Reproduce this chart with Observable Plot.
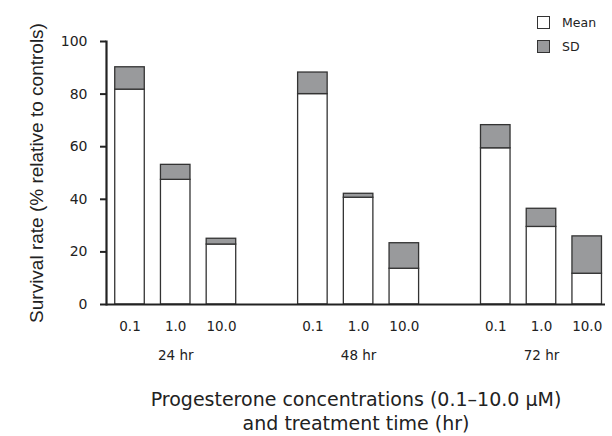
<!DOCTYPE html>
<html>
<head>
<meta charset="utf-8">
<script src="https://cdn.jsdelivr.net/npm/d3@7"></script>
<script src="https://cdn.jsdelivr.net/npm/@observablehq/plot@0.6"></script>
<style>
  html, body { margin: 0; padding: 0; background: #fff; }
  #wrap { position: relative; width: 612px; height: 436px; font-family: "DejaVu Sans", sans-serif; }
  .leg { position: absolute; left: 537px; font-size: 12.5px; color: #222; display: flex; align-items: center; }
  .leg span.box { display: inline-block; width: 13px; height: 13px; border: 1px solid #333; margin-right: 12px; box-sizing: border-box; }
</style>
</head>
<body>
<div id="wrap"></div>
<script>
const times = ["24 hr", "48 hr", "72 hr"];
const concentrations = ["0.1", "1.0", "10.0"];
const means = [81.7, 47.4, 22.8, 80.0, 40.6, 13.6, 59.4, 29.5, 11.7];
const sds   = [8.5, 5.7, 2.2, 8.2, 1.5, 9.7, 8.8, 6.9, 14.2];
const yTicks = [0, 20, 40, 60, 80, 100];

const rows = means.map((m, i) => ({
  slot: Math.floor(i / 3) * 4 + (i % 3),
  mean: m,
  top: m + sds[i],
  conc: concentrations[i % 3],
  time: times[Math.floor(i / 3)]
}));
const groupRows = times.map((t, g) => ({ slot: g * 4 + 1, time: t }));
const half = 0.323;

const chart = Plot.plot({
  width: 612,
  height: 436,
  marginLeft: 106,
  marginRight: 7,
  marginTop: 41,
  marginBottom: 132,
  style: { fontFamily: "DejaVu Sans, sans-serif", color: "#222", background: "#fff" },
  x: { type: "linear", domain: [-0.514, 10.4], axis: null },
  y: { domain: [0, 100], axis: null },
  marks: [
    Plot.rectY(rows, { x1: d => d.slot - half, x2: d => d.slot + half, y1: 0, y2: "mean", fill: "#fff", stroke: "#333", strokeWidth: 1.3 }),
    Plot.rectY(rows, { x1: d => d.slot - half, x2: d => d.slot + half, y1: "mean", y2: "top", fill: "#999a9c", stroke: "#333", strokeWidth: 1.3 }),
    Plot.axisY({ ticks: yTicks, tickSize: 6, tickPadding: 13, fontSize: 14, label: null, stroke: "#222", strokeWidth: 2 }),
    Plot.frame({ anchor: "left", stroke: "#222", strokeWidth: 2.2 }),
    Plot.ruleY([0], { stroke: "#222", strokeWidth: 2.2 }),
    Plot.text(rows, { x: "slot", text: "conc", frameAnchor: "bottom", dy: 26, fontSize: 13.5, fill: "#222" }),
    Plot.text(groupRows, { x: "slot", text: "time", frameAnchor: "bottom", dy: 55, fontSize: 13.5, fill: "#222" }),
    Plot.text(["Survival rate (% relative to controls)"], { frameAnchor: "left", textAnchor: "middle", rotate: -90, dx: -70, fontSize: 19, fontFamily: "Liberation Sans, Arial, sans-serif", fill: "#222" }),
    Plot.text(["Progesterone concentrations (0.1–10.0 μM)\nand treatment time (hr)"], { frameAnchor: "bottom", dy: 125, lineHeight: 1.25, fontSize: 19, fill: "#222" })
  ]
});

const wrap = document.getElementById("wrap");
wrap.appendChild(chart);
const legendItems = [["Mean", "#fff", 15], ["SD", "#999a9c", 39]];
for (const [label, color, top] of legendItems) {
  const d = document.createElement("div");
  d.className = "leg";
  d.style.top = top + "px";
  d.innerHTML = `<span class="box" style="background:${color}"></span>${label}`;
  wrap.appendChild(d);
}
</script>
</body>
</html>
